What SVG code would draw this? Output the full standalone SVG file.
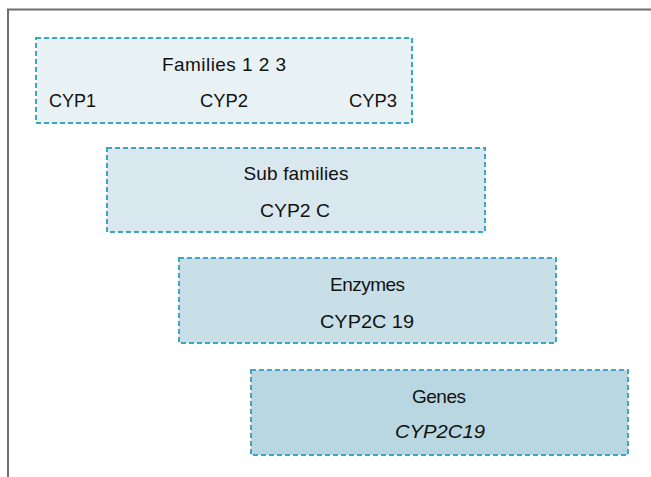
<svg xmlns="http://www.w3.org/2000/svg" width="651" height="477" viewBox="0 0 651 477">
<style>
.box{stroke:#3aa8c2;stroke-width:2;stroke-dasharray:5 3}
text{font-family:"Liberation Sans",Arial,sans-serif;font-size:19px;fill:#111}
.c{text-anchor:middle}
</style>
<rect x="0" y="0" width="651" height="477" fill="#fff"/>
<path d="M8 480 V9.5 H655" fill="none" stroke="#6b6e73" stroke-width="2"/>
<g id="families">
<rect class="box" x="36" y="38" width="376" height="85" fill="#e8f1f4"/>
<text class="c" x="224" y="71" textLength="124" lengthAdjust="spacing">Families 1 2 3</text>
<text x="49" y="107" textLength="47" lengthAdjust="spacingAndGlyphs">CYP1</text>
<text class="c" x="224" y="107" textLength="48" lengthAdjust="spacingAndGlyphs">CYP2</text>
<text x="397" y="107" text-anchor="end" textLength="48" lengthAdjust="spacingAndGlyphs">CYP3</text>
</g>
<g id="subfamilies">
<rect class="box" x="107" y="148" width="378" height="84" fill="#d9e8ef"/>
<text class="c" x="296" y="180" textLength="105" lengthAdjust="spacing">Sub families</text>
<text class="c" x="295" y="217" textLength="70" lengthAdjust="spacingAndGlyphs">CYP2 C</text>
</g>
<g id="enzymes">
<rect class="box" x="179" y="258" width="377" height="85" fill="#c8dfe7"/>
<text class="c" x="367.5" y="291" textLength="75" lengthAdjust="spacing">Enzymes</text>
<text class="c" x="367" y="328" textLength="94" lengthAdjust="spacingAndGlyphs">CYP2C 19</text>
</g>
<g id="genes">
<rect class="box" x="251" y="370" width="377" height="85" fill="#b9d7e1"/>
<text class="c" x="439" y="403" textLength="54" lengthAdjust="spacing">Genes</text>
<text class="c" x="440" y="438" font-style="italic" textLength="90" lengthAdjust="spacingAndGlyphs">CYP2C19</text>
</g>
<g id="connectors"/>
</svg>
